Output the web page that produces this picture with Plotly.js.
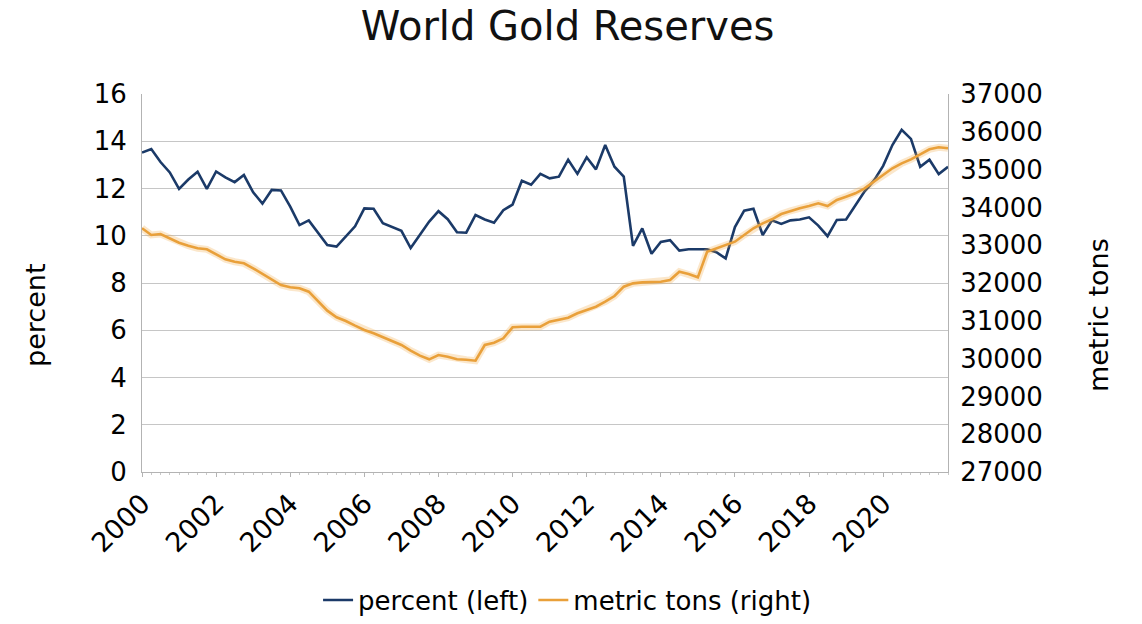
<!DOCTYPE html>
<html>
<head>
<meta charset="utf-8">
<script src="https://cdn.plot.ly/plotly-3.0.1.min.js"></script>
<style>html,body{margin:0;padding:0;background:#fff;}#chart{width:1142px;height:624px;}</style>
</head>
<body>
<div id="chart"></div>
<script>
// Quarterly observations, 2000 Q1 .. 2021 Q4
const startYear = 2000;
const quartersPerYear = 4;

const percentLeft = [
  13.52, 13.67, 13.12, 12.68, 11.98, 12.38, 12.71, 11.98,
  12.72, 12.47, 12.27, 12.57, 11.84, 11.36, 11.94, 11.92,
  11.23, 10.45, 10.65, 10.12, 9.61, 9.54, 9.95, 10.40,
  11.16, 11.14, 10.53, 10.38, 10.21, 9.48, 10.06, 10.60,
  11.04, 10.70, 10.15, 10.13, 10.88, 10.69, 10.55, 11.08,
  11.32, 12.33, 12.16, 12.62, 12.43, 12.50, 13.22, 12.62,
  13.32, 12.81, 13.84, 12.92, 12.50, 9.57, 10.31, 9.24,
  9.74, 9.81, 9.37, 9.43, 9.43, 9.43, 9.30, 9.04,
  10.37, 11.06, 11.14, 10.03, 10.65, 10.50, 10.65, 10.69,
  10.78, 10.43, 9.98, 10.67, 10.69, 11.30, 11.88, 12.33,
  12.96, 13.84, 14.48, 14.10, 12.92, 13.22, 12.61, 12.92
];

const metricTonsRight = [
  33450, 33270, 33296, 33182, 33066, 32987, 32918, 32891,
  32767, 32627, 32563, 32521, 32389, 32238, 32098, 31947,
  31886, 31860, 31770, 31506, 31268, 31093, 30995, 30871,
  30757, 30669, 30563, 30474, 30360, 30209, 30077, 29981,
  30095, 30050, 29981, 29970, 29944, 30360, 30421, 30537,
  30828, 30844, 30844, 30844, 30976, 31021, 31082, 31198,
  31286, 31373, 31506, 31656, 31902, 31991, 32017, 32017,
  32035, 32079, 32300, 32238, 32150, 32828, 32918, 33005,
  33093, 33270, 33447, 33579, 33685, 33825, 33910, 33976,
  34037, 34108, 34037, 34196, 34284, 34373, 34505, 34680,
  34857, 35034, 35166, 35272, 35405, 35537, 35590, 35563
];

const yearTicks = [2000, 2002, 2004, 2006, 2008, 2010, 2012, 2014, 2016, 2018, 2020];
const yearTickLabels = ["2000", "2002", "2004", "2006", "2008", "2010", "2012", "2014", "2016", "2018", "2020"];
const leftTicks = [0, 2, 4, 6, 8, 10, 12, 14, 16];
const rightTicks = [27000, 28000, 29000, 30000, 31000, 32000, 33000, 34000, 35000, 36000, 37000];
const leftTitle = "percent";
const rightTitle = "metric tons";

const quarterX = percentLeft.map((_, i) => startYear + i / quartersPerYear);

const FONT = "DejaVu Sans, Liberation Sans, sans-serif";
const BLUE = "#1b3a68";
const ORANGE = "#e9a03a";

const traces = [
  {
    x: quarterX, y: metricTonsRight, yaxis: "y2", type: "scatter", mode: "lines",
    line: {color: "rgba(240,170,70,0.28)", width: 7}, hoverinfo: "skip", showlegend: false
  },
  {
    x: quarterX, y: percentLeft, type: "scatter", mode: "lines", name: "percent (left)",
    line: {color: BLUE, width: 2.6}
  },
  {
    x: quarterX, y: metricTonsRight, yaxis: "y2", type: "scatter", mode: "lines", name: "metric tons (right)",
    line: {color: ORANGE, width: 2.6}
  }
];

const layout = {
  width: 1142, height: 624,
  paper_bgcolor: "#ffffff", plot_bgcolor: "#ffffff",
  margin: {l: 142, r: 194, t: 94, b: 152, pad: 0, autoexpand: false},
  font: {family: FONT, color: "#000000", size: 26},
  title: {text: "World Gold Reserves", font: {family: FONT, size: 40, color: "#111"},
          x: 0.497, xref: "container", xanchor: "center", y: 0.958, yref: "container", yanchor: "middle"},
  showlegend: true,
  legend: {orientation: "h", x: 0.528, xanchor: "center", y: -0.339, yanchor: "middle",
           font: {family: FONT, size: 26, color: "#000"}, itemwidth: 30, bgcolor: "rgba(0,0,0,0)"},
  xaxis: {
    type: "linear", range: [startYear, startYear + (percentLeft.length - 1) / quartersPerYear],
    tickmode: "array", tickvals: yearTicks, ticktext: yearTickLabels, tickangle: -45,
    tickfont: {family: FONT, size: 27, color: "#000"},
    showgrid: false, zeroline: false, showline: true, linecolor: "#b3b3b3", linewidth: 1,
    ticks: "outside", ticklen: 4, tickcolor: "#b3b3b3",
    minor: {dtick: 0.25, ticks: "outside", ticklen: 2, tickcolor: "#c8c8c8", showgrid: false},
    automargin: false, fixedrange: true
  },
  yaxis: {
    range: [0, 16], tickmode: "array", tickvals: leftTicks, ticktext: leftTicks.map(String),
    tickfont: {family: FONT, size: 26, color: "#000"},
    showgrid: true, gridcolor: "#c6c6c6", gridwidth: 1, zeroline: false,
    showline: true, linecolor: "#b3b3b3", linewidth: 1, ticks: "", ticklabelstandoff: 9,
    automargin: false, fixedrange: true
  },
  yaxis2: {
    range: [27000, 37000], overlaying: "y", side: "right",
    tickmode: "array", tickvals: rightTicks, ticktext: rightTicks.map(String),
    tickfont: {family: FONT, size: 26, color: "#000"},
    showgrid: false, zeroline: false, showline: true, linecolor: "#b3b3b3", linewidth: 1, ticks: "",
    ticklabelstandoff: 6,
    automargin: false, fixedrange: true
  },
  annotations: [
    {text: leftTitle, textangle: -90, xref: "paper", yref: "paper", x: -0.133, y: 0.415,
     xanchor: "center", yanchor: "middle", showarrow: false, font: {family: FONT, size: 27, color: "#000"}},
    {text: rightTitle, textangle: -90, xref: "paper", yref: "paper", x: 1.186, y: 0.415,
     xanchor: "center", yanchor: "middle", showarrow: false, font: {family: FONT, size: 27, color: "#000"}}
  ]
};

Plotly.newPlot("chart", traces, layout, {displayModeBar: false, staticPlot: true});
</script>
</body>
</html>
